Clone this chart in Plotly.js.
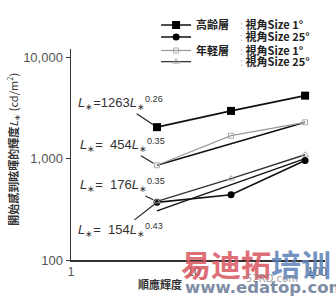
<!DOCTYPE html>
<html><head><meta charset="utf-8">
<script src="https://cdn.plot.ly/plotly-3.0.1.min.js"></script>
<style>html,body{margin:0;padding:0;background:#fff}#c{width:336px;height:298px}</style>
</head><body><div id="c"></div>
<script>
// Adapting luminance La (cd/m2)
const xLum = [5, 20, 80];
const fitX = [5, 80];
// Glare-onset luminance L* (cd/m2)
const elderly1 = [2040, 2950, 4170];
const elderly25 = [370, 440, 958];
const young1 = [859, 1680, 2276];
const young25 = [378, 635, 1090];
const young1Fit = [859, 2276];
const elderly25Fit = [305, 1000];
const yTickVals = [100, 1000, 10000];
const yTickText = ['100', '1,000', '10,000'];
const xTickVals = [1, 10, 100];
const xTickText = ['1', '10', '100'];
const seriesNames = [
  '<b>高齢層</b>　<span style="color:#bbb">:</span> <b>視角Size 1°</b>',
  '　　　　<span style="color:#bbb">:</span> <b>視角Size 25°</b>',
  '<b>年軽層</b>　<span style="color:#bbb">:</span> <b>視角Size 1°</b>',
  '　　　　<span style="color:#bbb">:</span> <b>視角Size 25°</b>'
];
const fitLabels = [
  '<i>L</i><sub>∗</sub>=1263<i>L</i><sub>∗</sub><sup>0.26</sup>',
  '<i>L</i><sub>∗</sub>=\u00a0 454<i>L</i><sub>∗</sub><sup>0.35</sup>',
  '<i>L</i><sub>∗</sub>=\u00a0 176<i>L</i><sub>∗</sub><sup>0.35</sup>',
  '<i>L</i><sub>∗</sub>=\u00a0 154<i>L</i><sub>∗</sub><sup>0.43</sup>'
];

const traces = [
  {x: fitX, y: young1Fit, mode: 'lines', line: {color: '#111', width: 1.6}, showlegend: false},
  {x: fitX, y: elderly25Fit, mode: 'lines', line: {color: '#111', width: 1.4}, showlegend: false},
  {x: xLum, y: elderly1, name: seriesNames[0], mode: 'lines+markers', legend: 'legend',
   line: {color: '#111', width: 1.6}, marker: {symbol: 'square', size: 8, color: '#000'}},
  {x: xLum, y: elderly25, name: seriesNames[1], mode: 'lines+markers', legend: 'legend2',
   line: {color: '#111', width: 1.6}, marker: {symbol: 'circle', size: 7, color: '#000'}},
  {x: xLum, y: young1, name: seriesNames[2], mode: 'lines+markers', legend: 'legend3',
   line: {color: '#999', width: 1.2}, marker: {symbol: 'square-open', size: 5, color: '#aaa'}},
  {x: xLum, y: young25, name: seriesNames[3], mode: 'lines+markers', legend: 'legend4',
   line: {color: '#333', width: 1.4}, marker: {symbol: 'triangle-up-open', size: 6, color: '#aaa'}}
];

const annFont = {family: 'Liberation Sans, Arial, sans-serif', size: 13, color: '#333'};
const annotations = [
  {x: Math.log10(xLum[0]), y: Math.log10(elderly1[0]), ax: -36, ay: -24, text: fitLabels[0]},
  {x: Math.log10(xLum[0]), y: Math.log10(young1[0]), ax: -34, ay: -20, text: fitLabels[1]},
  {x: Math.log10(xLum[0]), y: Math.log10(young25[0]), ax: -34, ay: -16, text: fitLabels[2]},
  {x: Math.log10(xLum[0]), y: Math.log10(elderly25[0]), ax: -36, ay: 28, text: fitLabels[3]}
].map(a => Object.assign({xref: 'x', yref: 'y', showarrow: true, arrowhead: 0, arrowwidth: 1.2,
  arrowcolor: '#222', standoff: 4, font: annFont}, a));

annotations.push(
  {xref: 'paper', yref: 'paper', x: -0.27, y: 0.525, textangle: -90, showarrow: false,
   text: '<b>開始感到眩暉的輝度</b><i>L</i><sub>∗</sub> (cd/m<sup>2</sup>)',
   font: {family: 'Noto Sans CJK TC, sans-serif', size: 11, color: '#333'}},
  {xref: 'paper', yref: 'paper', x: 0.35, y: -0.114, yanchor: 'middle', showarrow: false, text: '<b>順應輝度</b>',
   font: {family: 'Noto Sans CJK TC, sans-serif', size: 11, color: '#333'}},
  {xref: 'paper', yref: 'paper', x: 0.425, xanchor: 'left', y: -0.015, yanchor: 'middle', showarrow: false, opacity: 0.85,
   text: '<b><span style="color:#d9575f">易迪拓</span><span style="color:#5b82b8">培训</span></b>',
   font: {family: 'Noto Sans CJK SC, sans-serif', size: 30}},
  {xref: 'paper', yref: 'paper', x: 0.44, xanchor: 'left', y: -0.132, yanchor: 'middle', showarrow: false, opacity: 0.8,
   text: '<b>www.edatop.com</b>', font: {family: 'DejaVu Sans, sans-serif', size: 16.5, color: '#60708f'}},
  {xref: 'paper', yref: 'paper', x: 0.9, y: -0.09, yanchor: 'middle', showarrow: false, opacity: 0.8,
   text: '52RD.com', font: {family: 'DejaVu Sans, sans-serif', size: 10, color: '#888'}}
);

const legFont = {family: 'Noto Sans CJK JP, sans-serif', size: 11, color: '#222'};
const legRows = [1.114, 1.057, 0.993, 0.940];
function leg(y) {
  return {x: 0.335, y: y, xanchor: 'left', yanchor: 'middle', bgcolor: 'rgba(0,0,0,0)',
    font: legFont, itemwidth: 30, borderwidth: 0};
}

const layout = {
  width: 336, height: 298,
  margin: {l: 71, r: 11, t: 40, b: 38},
  paper_bgcolor: '#fff', plot_bgcolor: '#fff',
  xaxis: {type: 'log', range: [0, 2.065], tickvals: xTickVals, ticktext: xTickText,
    showgrid: false, zeroline: false, showline: true, linecolor: '#333', linewidth: 1.5,
    ticks: '', tickfont: {family: 'Liberation Sans, Arial, sans-serif', size: 12, color: '#555'}},
  yaxis: {type: 'log', range: [2, 4.08], tickvals: yTickVals, ticktext: yTickText,
    showgrid: false, zeroline: false, showline: true, linecolor: '#333', linewidth: 1.5,
    ticks: 'outside', ticklen: 4, tickcolor: '#333',
    tickfont: {family: 'Liberation Sans, Arial, sans-serif', size: 13, color: '#555'}},
  legend: leg(legRows[0]),
  legend2: leg(legRows[1]),
  legend3: leg(legRows[2]),
  legend4: leg(legRows[3]),
  annotations: annotations,
  showlegend: true
};

Plotly.newPlot('c', traces, layout, {staticPlot: true, displayModeBar: false});
</script></body></html>
